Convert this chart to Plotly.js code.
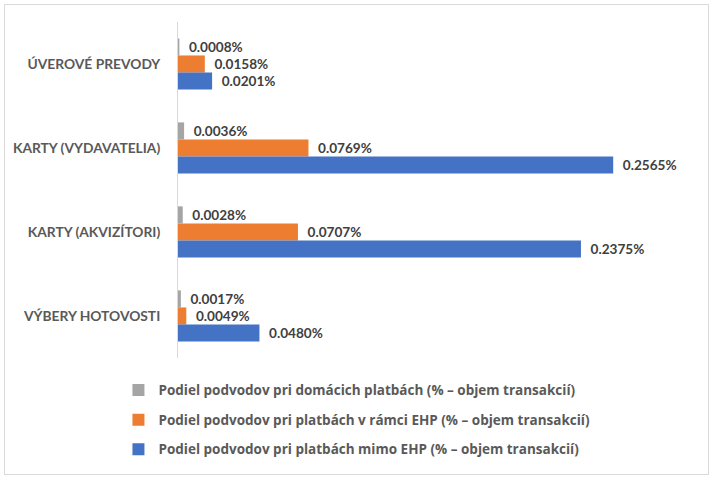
<!DOCTYPE html>
<html>
<head>
<meta charset="utf-8">
<script src="https://cdn.plot.ly/plotly-3.0.1.min.js"></script>
<style>
  body { margin: 0; background: #fff; }
  #wrap { position: relative; width: 712px; height: 479px; }
  #chart { position: absolute; left: 0; top: 0; width: 712px; height: 479px; }
  #frame { position: absolute; left: 4px; top: 4px; width: 703px; height: 469px; border: 1px solid #d9d9d9; pointer-events: none; }
</style>
</head>
<body>
<div id="wrap">
  <div id="chart"></div>
  <div id="frame"></div>
</div>
<script>
const categories = ["ÚVEROVÉ PREVODY", "KARTY (VYDAVATELIA)", "KARTY (AKVIZÍTORI)", "VÝBERY HOTOVOSTI"];
const domestic = [0.0008, 0.0036, 0.0028, 0.0017];
const withinEEA = [0.0158, 0.0769, 0.0707, 0.0049];
const outsideEEA = [0.0201, 0.2565, 0.2375, 0.0480];
const seriesNames = [
  "Podiel podvodov pri domácich platbách (% – objem transakcií)",
  "Podiel podvodov pri platbách v rámci EHP (% – objem transakcií)",
  "Podiel podvodov pri platbách mimo EHP (% – objem transakcií)"
];
const colors = ["#A5A5A5", "#ED7D31", "#4472C4"];
const font = "Lato, 'Open Sans', sans-serif";

function mk(vals, i) {
  return {
    type: "bar",
    orientation: "h",
    y: categories,
    x: vals,
    name: seriesNames[i],
    legendgroup: "g" + i,
    marker: { color: colors[i] },
    text: vals.map(v => "\u00a0\u00a0" + v.toFixed(4) + "%"),
    textposition: "outside",
    cliponaxis: false,
    textfont: { family: font, size: 13.6, color: "#404040", weight: "bold" },
    hoverinfo: "none"
  };
}

const data = [mk(domestic, 0), mk(withinEEA, 1), mk(outsideEEA, 2)];

const layout = {
  width: 712, height: 479,
  margin: { l: 178, r: 25, t: 22, b: 121 },
  paper_bgcolor: "#fff", plot_bgcolor: "#fff",
  barmode: "group",
  bargap: 0.39,
  bargroupgap: 0,
  showlegend: true,
  legend: {
    orientation: "v",
    x: -0.117, xanchor: "left",
    y: -0.05, yanchor: "top",
    traceorder: "grouped",
    tracegroupgap: 9,
    font: { family: "'Open Sans', sans-serif", size: 13.5, color: "#595959", weight: "bold" },
    itemwidth: 30
  },
  xaxis: {
    range: [0, 0.3],
    showgrid: false, zeroline: false, showticklabels: false, showline: false, ticks: ""
  },
  yaxis: {
    type: "category",
    autorange: "reversed",
    showgrid: false, zeroline: false,
    showline: true, linecolor: "#d9d9d9", linewidth: 1,
    ticks: "",
    ticklabelstandoff: 14,
    tickfont: { family: font, size: 13.8, color: "#595959", weight: "bold" }
  }
};

Plotly.newPlot("chart", data, layout, { displayModeBar: false, staticPlot: true });
</script>
</body>
</html>
